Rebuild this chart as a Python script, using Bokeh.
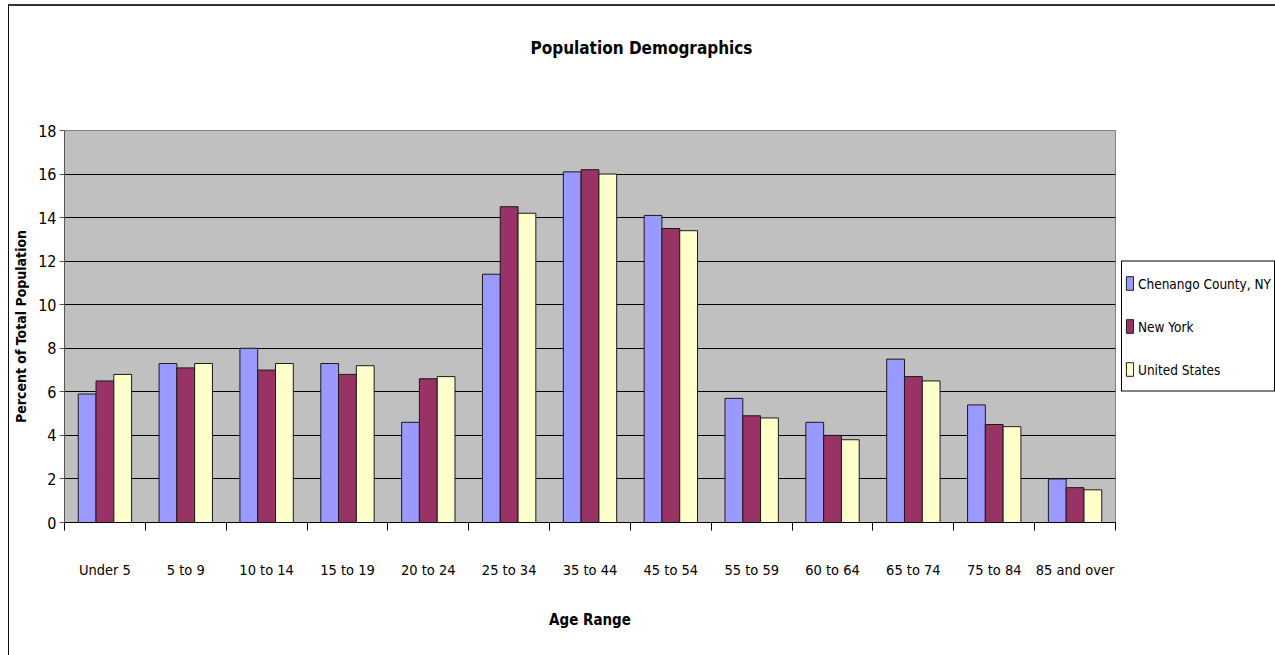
from bokeh.plotting import figure
from bokeh.models import (ColumnDataSource, Range1d, FixedTicker, Legend, LegendItem,
                          Title)
from bokeh.transform import dodge
from bokeh.embed import file_html
from bokeh.resources import INLINE

# Share of total population (%) by age range
age_ranges = ["Under 5", "5 to 9", "10 to 14", "15 to 19", "20 to 24", "25 to 34",
              "35 to 44", "45 to 54", "55 to 59", "60 to 64", "65 to 74", "75 to 84",
              "85 and over"]
chenango = [5.9, 7.3, 8.0, 7.3, 4.6, 11.4, 16.1, 14.1, 5.7, 4.6, 7.5, 5.4, 2.0]
new_york = [6.5, 7.1, 7.0, 6.8, 6.6, 14.5, 16.2, 13.5, 4.9, 4.0, 6.7, 4.5, 1.6]
united_states = [6.8, 7.3, 7.3, 7.2, 6.7, 14.2, 16.0, 13.4, 4.8, 3.8, 6.5, 4.4, 1.5]
series_names = ["Chenango County, NY", "New York", "United States"]
series_colors = ["#9999FF", "#993366", "#FFFFCC"]
y_ticks = [0, 2, 4, 6, 8, 10, 12, 14, 16, 18]

FONT = "DejaVu Sans Condensed, Liberation Sans, sans-serif"

n = len(age_ranges)
idx = list(range(n))
src = ColumnDataSource(dict(idx=idx, chenango=chenango, new_york=new_york,
                            united_states=united_states))

p = figure(frame_width=1051, frame_height=392,
           x_range=Range1d(-0.5, n - 0.5), y_range=Range1d(0, 18),
           output_backend="svg", toolbar_location=None,
           min_border_left=55, min_border_right=158,
           min_border_top=124, min_border_bottom=133)

# outer chart border, offset from the page corner
p.styles = {"margin-left": "8px", "margin-top": "4px",
            "border-top": "2px solid #333333",
            "border-left": "1px solid #111111",
            "border-right": "1px solid #333333"}

p.background_fill_color = "#C0C0C0"
p.border_fill_color = "white"
p.outline_line_color = "#808080"
p.outline_line_width = 1

# bars
bar_w = 0.22
renderers = []
for off, col, color in zip([-bar_w, 0.0, bar_w],
                           ["chenango", "new_york", "united_states"], series_colors):
    r = p.vbar(x=dodge("idx", off, range=p.x_range), top=col, width=bar_w,
               bottom=0, source=src, fill_color=color, line_color="#1a1a1a",
               line_width=1)
    renderers.append(r)

# grid
p.xgrid.visible = False
p.ygrid.ticker = FixedTicker(ticks=y_ticks)
p.ygrid.grid_line_color = "black"
p.ygrid.grid_line_width = 1

# y axis
p.yaxis.ticker = FixedTicker(ticks=y_ticks)
p.yaxis.axis_label = "Percent of Total Population"
p.yaxis.axis_label_text_font = FONT
p.yaxis.axis_label_text_font_size = "14px"
p.yaxis.axis_label_text_font_style = "bold"
p.yaxis.axis_label_text_color = "black"
p.yaxis.axis_label_standoff = 6
p.yaxis.major_label_text_font = FONT
p.yaxis.major_label_text_font_size = "16px"
p.yaxis.major_label_text_color = "black"
p.yaxis.major_label_standoff = 3
p.yaxis.major_tick_out = 5
p.yaxis.major_tick_in = 0
p.yaxis.minor_tick_out = 0
p.yaxis.minor_tick_in = 0
p.yaxis.axis_line_color = "#555555"
p.yaxis.major_tick_line_color = "#555555"

# x axis: labels at group centres, ticks at group boundaries
p.xaxis.ticker = FixedTicker(ticks=idx, minor_ticks=[i - 0.5 for i in range(n + 1)])
p.xaxis.major_label_overrides = {i: lab for i, lab in enumerate(age_ranges)}
p.xaxis.major_tick_out = 0
p.xaxis.major_tick_in = 0
p.xaxis.minor_tick_out = 8
p.xaxis.minor_tick_in = 0
p.xaxis.minor_tick_line_color = "black"
p.xaxis.axis_line_color = "black"
p.xaxis.major_label_standoff = 31
p.xaxis.major_label_text_font = FONT
p.xaxis.major_label_text_font_size = "14.5px"
p.xaxis.major_label_text_color = "black"
p.xaxis.axis_label = "Age Range"
p.xaxis.axis_label_text_font = FONT
p.xaxis.axis_label_text_font_size = "15px"
p.xaxis.axis_label_text_font_style = "bold"
p.xaxis.axis_label_text_color = "black"
p.xaxis.axis_label_standoff = 30

# blank strip between the plot area and the chart title
p.add_layout(Title(text=" ", standoff=65, text_font_size="1px"), "above")

# chart title, centred over the whole chart
p.add_layout(Title(text="Population Demographics", align="left", offset=466,
                   standoff=10, text_font=FONT, text_font_size="17px",
                   text_font_style="bold", text_color="black"), "above")

# legend
legend = Legend(items=[LegendItem(label=name, renderers=[r])
                       for name, r in zip(series_names, renderers)],
                location="center_left", orientation="vertical",
                margin=6, padding=3, spacing=6,
                glyph_width=9, glyph_height=17, label_height=37,
                label_standoff=4,
                label_text_font=FONT, label_text_font_size="13.5px",
                label_text_color="black",
                border_line_color="black", border_line_width=1,
                border_line_alpha=1,
                background_fill_color="white", background_fill_alpha=1)
p.add_layout(legend, "right")

open("out.html", "w").write(file_html(p, INLINE))
